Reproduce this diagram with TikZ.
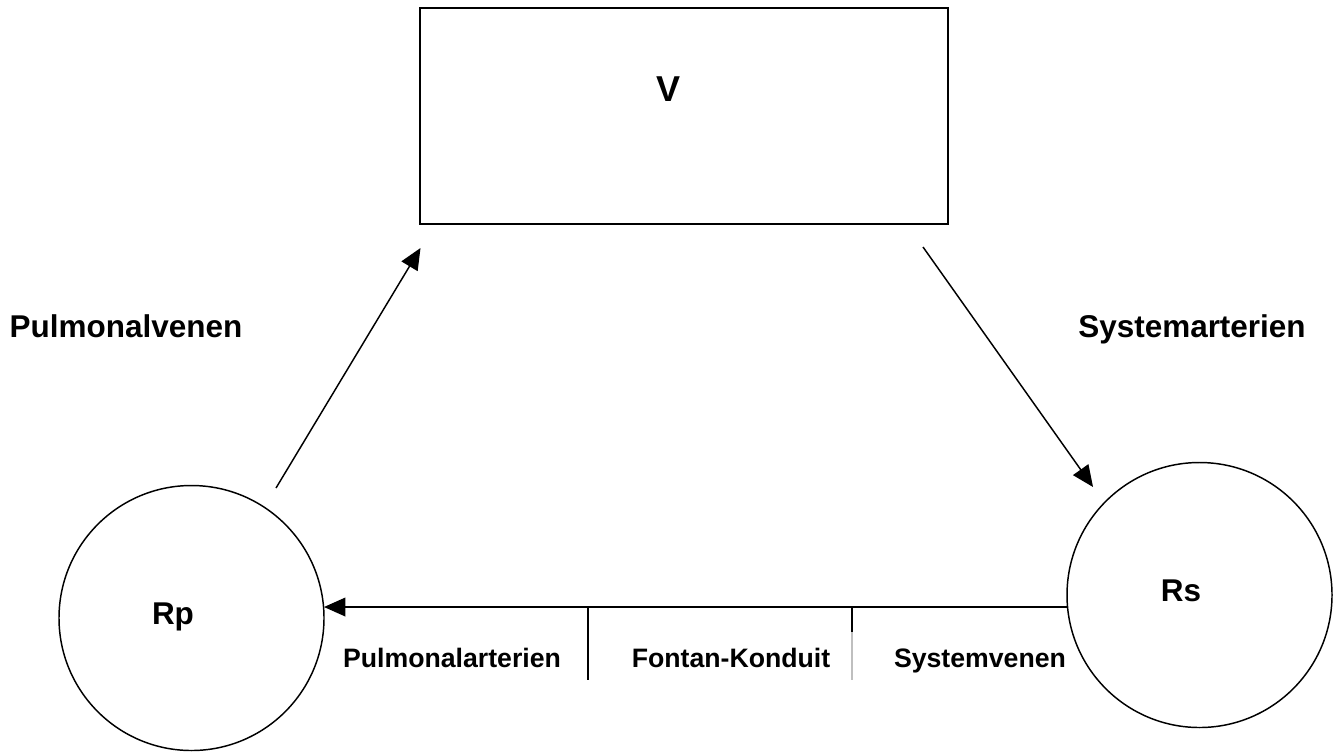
\documentclass[tikz,border=0pt]{standalone}
\usepackage{fontspec}
\setmainfont{Liberation Sans}
\usetikzlibrary{arrows.meta}
\begin{document}
\begin{tikzpicture}[x=0.75pt,y=-0.75pt,
  line width=1.1pt,
  ring/.style={draw=black,circle,inner sep=0pt,minimum size=198.75pt},
  bigtxt/.style={font=\fontsize{23.6pt}{26pt}\selectfont\bfseries,inner sep=0pt,anchor=base},
  smalltxt/.style={font=\fontsize{20pt}{22pt}\selectfont\bfseries,inner sep=0pt,anchor=base},
  flow/.style={-{Triangle[length=16pt,width=14pt]}}]
\useasboundingbox (0,0) rectangle (1333,751);
% ventricle
\node[draw=black,minimum width=396pt,minimum height=162pt,inner sep=0pt] (V) at (684,116) {};
\node[font=\fontsize{27pt}{30pt}\selectfont\bfseries,inner sep=0pt,anchor=base] (Vt) at (668,101) {V};
% circles
\node[ring] (Rp) at (191.5,618) {};
\node[ring] (Rs) at (1199.5,595) {};
\node[bigtxt] (Rpt) at (173,624) {Rp};
\node[bigtxt] (Rst) at (1181,601) {Rs};
% labels
\node[bigtxt] (pv) at (126,337) {Pulmonalvenen};
\node[bigtxt] (sa) at (1192,337) {Systemarterien};
\node[smalltxt] (pa) at (452,667) {Pulmonalarterien};
\node[smalltxt] (fk) at (731,667) {Fontan-Konduit};
\node[smalltxt] (sv) at (980,667) {Systemvenen};
% connector coordinates
\coordinate (a1s) at (276,488);
\coordinate (a1e) at (420.5,248);
\coordinate (a2s) at (923,247);
\coordinate (a2e) at (1093,487);
\coordinate (a3s) at (1067,607);
\coordinate (a3e) at (324,607);
\coordinate (d1t) at (588,607);
\coordinate (d1b) at (588,680);
\coordinate (d2t) at (852,607);
\coordinate (d2m) at (852,632);
\coordinate (d2b) at (852,680);
% arrows
\draw[flow] (a1s) -- (a1e);
\draw[flow] (a2s) -- (a2e);
\draw[flow] (a3s) -- (a3e);
% dividers
\draw (d1t) -- (d1b);
\draw (d2t) -- (d2m);
\draw[draw=black!25,line width=0.8pt] (d2m) -- (d2b);
\end{tikzpicture}
\end{document}
